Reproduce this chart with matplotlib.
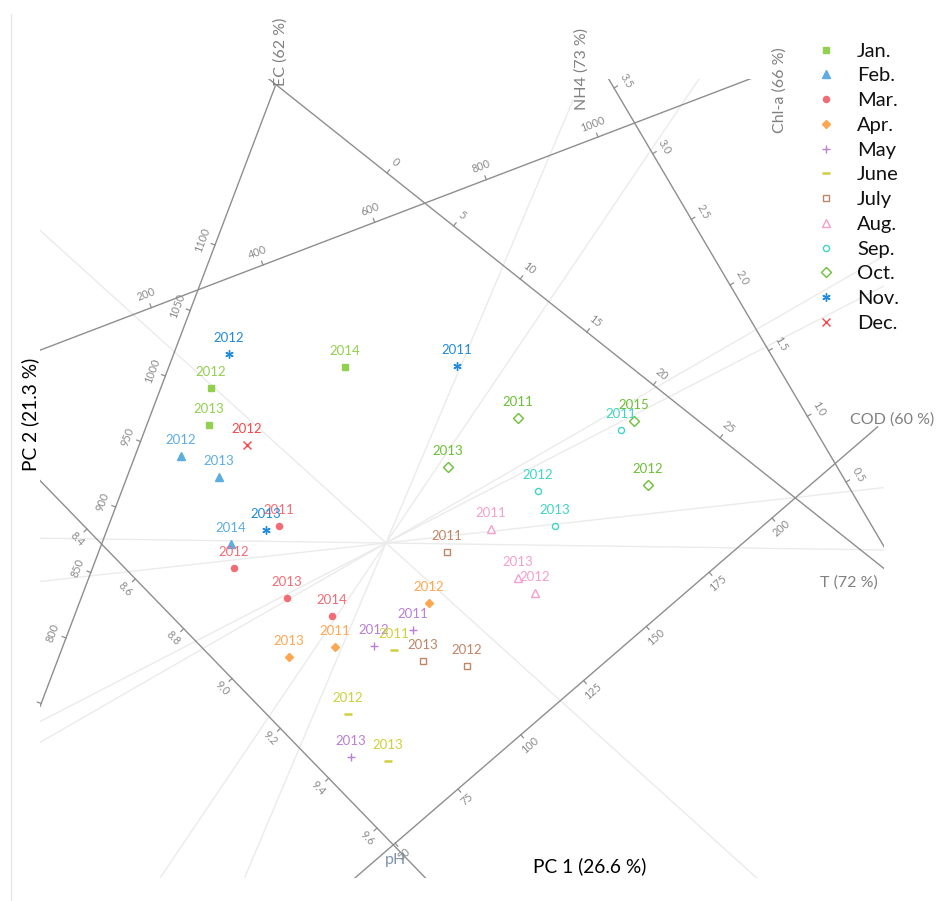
import numpy as np
import matplotlib
matplotlib.use("Agg")
import matplotlib.pyplot as plt
from matplotlib.patches import Rectangle

plt.rcParams['font.family'] = ['Lato', 'DejaVu Sans']

# ---------------- data ----------------
months = ['Jan.', 'Feb.', 'Mar.', 'Apr.', 'May', 'June', 'July', 'Aug.',
          'Sep.', 'Oct.', 'Nov.', 'Dec.']
month_colors = ['#92D050', '#5DADE2', '#F26C75', '#FFA650', '#B97FD6', '#CFD03C',
                '#C08565', '#F5A0CC', '#40D4C6', '#6CC035', '#1E8BDD', '#F24848']
month_markers = ['s', '^', 'o', 'D', '+', '_', 's', '^', 'o', 'D', (6, 2, 0), 'x']
month_filled = [True, True, True, True, True, True, False, False, False, False, True, True]
month_msize = [3.8, 6.0, 4.4, 4.4, 5.5, 5.5, 4.2, 6.0, 4.4, 4.6, 6.0, 5.2]

point_month = [0, 0, 0,
               1, 1, 1,
               2, 2, 2, 2,
               3, 3, 3,
               4, 4, 4,
               5, 5, 5,
               6, 6, 6,
               7, 7, 7,
               8, 8, 8,
               9, 9, 9, 9,
               10, 10, 10,
               11]
point_year = ['2012', '2013', '2014',
              '2012', '2013', '2014',
              '2011', '2012', '2013', '2014',
              '2011', '2012', '2013',
              '2011', '2012', '2013',
              '2011', '2012', '2013',
              '2011', '2012', '2013',
              '2011', '2012', '2013',
              '2011', '2012', '2013',
              '2011', '2012', '2013', '2015',
              '2011', '2012', '2013',
              '2012']
point_pc1 = [-1.75, -1.77, -0.41,
             -2.05, -1.67, -1.55,
             -1.07, -1.52, -0.99, -0.54,
             -0.51, 0.43, -0.97,
             0.27, -0.12, -0.35,
             0.08, -0.38, 0.02,
             0.61, 0.81, 0.37,
             1.05, 1.49, 1.32,
             2.35, 1.52, 1.69,
             1.32, 2.62, 0.62, 2.48,
             0.71, -1.57, -1.20,
             -1.39]
point_pc2 = [1.55, 1.18, 1.76,
             0.87, 0.66, -0.01,
             0.17, -0.25, -0.55, -0.73,
             -1.04, -0.60, -1.14,
             -0.87, -1.03, -2.14,
             -1.07, -1.71, -2.18,
             -0.09, -1.23, -1.18,
             0.14, -0.50, -0.35,
             1.13, 0.52, 0.17,
             1.25, 0.58, 0.76, 1.22,
             1.77, 1.89, 0.13,
             0.98]

# calibrated (shifted) variable axes: two calibration points (value, pc1, pc2)
cal_names = ['EC', 'NH4', 'T', 'Chl-a', 'COD', 'pH']
cal_point_a = [(800, -3.20, -0.95), (400, -1.23, 2.78), (0, 0.01, 3.70),
               (3.5, 2.28, 4.55), (75, 0.72, -2.46), (8.4, -2.99, 0.14)]
cal_point_b = [(1100, -1.71, 2.98), (1000, 2.12, 4.06), (25, 3.34, 1.05),
               (0.5, 4.60, 0.61), (200, 3.86, 0.25), (9.6, -0.09, -2.85)]
cal_range = [(748, 1221), (0, 1295), (-9.5, 37.5), (0.0, 3.62), (33, 242), (8.2, 9.82)]
cal_ticks = [[750, 800, 850, 900, 950, 1000, 1050, 1100],
             [200, 400, 600, 800, 1000],
             [0, 5, 10, 15, 20, 25],
             [0.5, 1.0, 1.5, 2.0, 2.5, 3.0, 3.5],
             [50, 75, 100, 125, 150, 175, 200],
             [8.4, 8.6, 8.8, 9.0, 9.2, 9.4, 9.6]]
cal_tick_labels = [['', '800', '850', '900', '950', '1000', '1050', '1100'],
                   ['200', '400', '600', '800', '1000'],
                   ['0', '5', '10', '15', '20', '25'],
                   ['0.5', '1.0', '1.5', '2.0', '2.5', '3.0', '3.5'],
                   ['50', '75', '100', '125', '150', '175', '200'],
                   ['8.4', '8.6', '8.8', '9.0', '9.2', '9.4', '9.6']]
cal_side = [1, 1, 1, -1, -1, -1]

# variable direction lines through the origin (angle in degrees, radial extent)
dir_angles = [-42.1, 67.1, 56.0, -0.8, 6.35, 27.3, 29.96]
dir_extent = [(-10, 10), (-10, 4.81), (-10, 10), (-10, 10), (-10, 10), (-10, 10), (-10, 10)]

var_labels = ['EC (62 %)', 'NH4 (73 %)', 'Chl-a (66 %)', 'COD (60 %)', 'T (72 %)', 'pH']
var_label_pos = [(-1.05, 4.57), (1.96, 4.33), (3.94, 4.10), (4.64, 1.23), (4.34, -0.40), (0.10, -3.17)]
var_label_rot = [90, 90, 90, 0, 0, 0]
var_label_ha = ['left', 'left', 'left', 'left', 'left', 'center']
var_label_col = ['#808080', '#808080', '#808080', '#808080', '#808080', '#7F93AE']

# plot region of the biplot
box_x = (-3.46, 4.98)
box_y = (-3.35, 4.64)

# ---------------- figure ----------------
fig = plt.figure(figsize=(9.41, 9.01), dpi=100)
ax = fig.add_axes([0, 0, 1, 1])
ax.set_xlim(-3.86, 5.55)
ax.set_ylim(-3.58, 5.43)
ax.axis('off')

clip = Rectangle((box_x[0], box_y[0]), box_x[1] - box_x[0], box_y[1] - box_y[0],
                 transform=ax.transData, facecolor='none', edgecolor='none')
ax.add_patch(clip)

# left frame line
ax.axvline(-3.75, ymin=0.0, ymax=0.985, color='#e6e6e6', lw=0.9)

# light direction lines
for ang, (r0, r1) in zip(dir_angles, dir_extent):
    t = np.radians(ang)
    ln, = ax.plot([r0 * np.cos(t), r1 * np.cos(t)], [r0 * np.sin(t), r1 * np.sin(t)],
                  color='#ebebeb', lw=1.0, zorder=1)
    ln.set_clip_path(clip)

# calibrated axes
tick_len = 0.04
for i in range(len(cal_names)):
    va, xa, ya = cal_point_a[i]
    vb, xb, yb = cal_point_b[i]
    ux = (xb - xa) / (vb - va)
    uy = (yb - ya) / (vb - va)
    norm = np.hypot(ux, uy)
    dxi, dyi = ux / norm, uy / norm
    nx, ny = -dyi * cal_side[i], dxi * cal_side[i]
    lo, hi = cal_range[i]
    px = [xa + (lo - va) * ux, xa + (hi - va) * ux]
    py = [ya + (lo - va) * uy, ya + (hi - va) * uy]
    ln, = ax.plot(px, py, color='#8e8e8e', lw=1.0, zorder=2)
    ln.set_clip_path(clip)
    ang = np.degrees(np.arctan2(dyi, dxi))
    if ang > 90:
        ang -= 180
    elif ang <= -90:
        ang += 180
    for v, lab in zip(cal_ticks[i], cal_tick_labels[i]):
        tx = xa + (v - va) * ux
        ty = ya + (v - va) * uy
        ax.plot([tx, tx + nx * tick_len], [ty, ty + ny * tick_len],
                color='#8e8e8e', lw=0.9, zorder=2)
        if lab:
            ax.text(tx + nx * 0.14, ty + ny * 0.14, lab, rotation=ang,
                    rotation_mode='anchor', ha='center', va='center',
                    fontsize=7.8, color='#8a8a8a', zorder=3)

# variable labels
for lab, (x, y), rot, ha, col in zip(var_labels, var_label_pos, var_label_rot,
                                     var_label_ha, var_label_col):
    ax.text(x, y, lab, rotation=rot, rotation_mode='anchor', ha=ha, va='center',
            fontsize=11.5, color=col, zorder=3)

# scores
handles = []
for m in range(len(months)):
    idx = [k for k in range(len(point_month)) if point_month[k] == m]
    xs = [point_pc1[k] for k in idx]
    ys = [point_pc2[k] for k in idx]
    col = month_colors[m]
    mk = month_markers[m]
    fc = col if month_filled[m] else 'white'
    mew = 1.8 if mk == '_' else 1.0
    h, = ax.plot(xs, ys, linestyle='none', marker=mk, markersize=month_msize[m],
                 markerfacecolor=fc, markeredgecolor=col, markeredgewidth=mew,
                 label=months[m], zorder=5)
    handles.append(h)
    for k in idx:
        ax.annotate(point_year[k], (point_pc1[k], point_pc2[k]), xytext=(0, 11.5),
                    textcoords='offset points', ha='center', va='center',
                    fontsize=9.5, color=col, zorder=6)

# axis titles
ax.text(-3.56, 1.29, 'PC 2 (21.3 %)', rotation=90, ha='center', va='center',
        fontsize=13.8, color='black')
ax.text(2.04, -3.23, 'PC 1 (26.6 %)', ha='center', va='center',
        fontsize=13.8, color='black')

leg = ax.legend(handles=handles, loc='upper left',
                bbox_to_anchor=(816 / 941, 1 - 42.5 / 901),
                frameon=False, fontsize=14.5, handlelength=1.0,
                handletextpad=1.04, labelspacing=0.38, borderpad=0,
                borderaxespad=0)
for t in leg.get_texts():
    t.set_color('#111111')

fig.savefig('out.png', dpi=100)
